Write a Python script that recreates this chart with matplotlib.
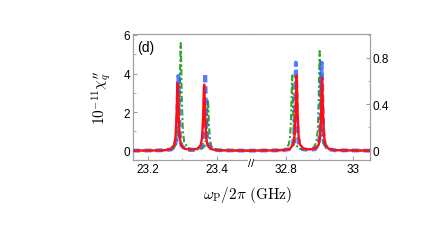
import matplotlib
matplotlib.use('Agg')
import matplotlib.pyplot as plt
from matplotlib.ticker import MultipleLocator

plt.rcParams['font.family'] = ['Liberation Sans', 'DejaVu Sans']
plt.rcParams['mathtext.fontset'] = 'cm'

# left part: 23.x GHz window, left axis units
red_l_x = [23.157, 23.22, 23.246, 23.266, 23.276, 23.280, 23.283, 23.2845, 23.286, 23.2875, 23.289, 23.292, 23.296, 23.306,
           23.325, 23.343, 23.353, 23.357, 23.360, 23.3615, 23.363, 23.3645, 23.366, 23.369, 23.373, 23.383, 23.403, 23.44, 23.493]
red_l_y = [0.0, 0.01, 0.02, 0.08, 0.29, 0.7, 1.75, 2.8, 3.5, 2.8, 1.75, 0.7, 0.29, 0.1,
           0.05, 0.1, 0.28, 0.68, 1.7, 2.7, 3.42, 2.7, 1.7, 0.68, 0.28, 0.08, 0.02, 0.01, 0.0]

blue_l_x = [23.157, 23.22, 23.248, 23.268, 23.279, 23.283, 23.2855, 23.287, 23.288, 23.289, 23.2905, 23.293, 23.297, 23.308,
            23.327, 23.346, 23.357, 23.361, 23.3635, 23.365, 23.366, 23.367, 23.3685, 23.371, 23.375, 23.386, 23.406, 23.44, 23.493]
blue_l_y = [0.0, 0.01, 0.02, 0.06, 0.27, 0.78, 1.94, 3.34, 3.88, 3.34, 1.94, 0.78, 0.27, 0.06,
            0.03, 0.06, 0.28, 0.8, 2.0, 3.46, 4.02, 3.46, 2.0, 0.8, 0.28, 0.06, 0.02, 0.01, 0.0]

green_l_x = [23.157, 23.23, 23.255, 23.275, 23.285, 23.289, 23.292, 23.2935, 23.295, 23.2965, 23.298, 23.301, 23.305, 23.315,
             23.334, 23.354, 23.364, 23.368, 23.371, 23.3725, 23.374, 23.3755, 23.377, 23.380, 23.384, 23.394, 23.414, 23.45, 23.493]
green_l_y = [0.0, 0.01, 0.03, 0.12, 0.46, 1.12, 2.79, 4.46, 5.58, 4.46, 2.79, 1.12, 0.46, 0.14,
             0.07, 0.07, 0.22, 0.53, 1.32, 2.11, 2.64, 2.11, 1.32, 0.53, 0.22, 0.06, 0.02, 0.01, 0.0]

# right part: 32.x GHz window, right axis units
red_r_x = [32.690, 32.76, 32.792, 32.812, 32.822, 32.826, 32.829, 32.8305, 32.832, 32.8335, 32.835, 32.838, 32.842, 32.852,
           32.870, 32.888, 32.898, 32.902, 32.905, 32.9065, 32.908, 32.9095, 32.911, 32.914, 32.918, 32.928, 32.948, 32.99, 33.051]
red_r_y = [0.0, 0.002, 0.004, 0.015, 0.054, 0.13, 0.325, 0.52, 0.65, 0.52, 0.325, 0.13, 0.054, 0.018,
           0.01, 0.018, 0.05, 0.126, 0.315, 0.5, 0.63, 0.5, 0.315, 0.126, 0.05, 0.015, 0.004, 0.002, 0.0]

blue_r_x = [32.690, 32.76, 32.790, 32.810, 32.821, 32.825, 32.8275, 32.829, 32.830, 32.831, 32.8325, 32.835, 32.839, 32.850,
            32.868, 32.887, 32.898, 32.902, 32.9045, 32.906, 32.907, 32.908, 32.9095, 32.912, 32.916, 32.927, 32.947, 32.99, 33.051]
blue_r_y = [0.0, 0.002, 0.003, 0.012, 0.053, 0.15, 0.38, 0.65, 0.76, 0.65, 0.38, 0.15, 0.053, 0.012,
            0.006, 0.012, 0.053, 0.15, 0.38, 0.65, 0.76, 0.65, 0.38, 0.15, 0.053, 0.012, 0.003, 0.002, 0.0]

green_r_x = [32.690, 32.75, 32.779, 32.799, 32.809, 32.813, 32.816, 32.8175, 32.819, 32.8205, 32.822, 32.825, 32.829, 32.839,
             32.860, 32.881, 32.891, 32.895, 32.898, 32.8995, 32.901, 32.9025, 32.904, 32.907, 32.911, 32.921, 32.941, 32.99, 33.051]
green_r_y = [0.0, 0.002, 0.004, 0.014, 0.054, 0.13, 0.325, 0.52, 0.65, 0.52, 0.325, 0.13, 0.054, 0.016,
             0.01, 0.02, 0.07, 0.17, 0.43, 0.69, 0.86, 0.69, 0.43, 0.17, 0.07, 0.019, 0.005, 0.002, 0.0]

left_yticks = [0, 2, 4, 6]
right_yticks = [0, 0.4, 0.8]
left_xticks = [23.2, 23.4]
right_xticks = [32.8, 33.0]

RED = '#ff0f0f'
BLUE = '#2a5cff'
GREEN = '#2fa52f'
SPINE = '#a0a0a0'

fig = plt.figure(figsize=(4.36, 2.51), dpi=100)
ax1 = fig.add_axes([0.305, 0.3566, 0.571 - 0.305, 0.8606 - 0.3566])
ax2 = fig.add_axes([0.571, 0.3566, 0.8486 - 0.571, 0.8606 - 0.3566])

def draw(ax, gx, gy, rx, ry, bx, by):
    ax.plot(gx, gy, color=GREEN, lw=1.5, ls=(0, (3, 1.2, 1, 1.2)), zorder=1)
    ax.plot(bx, by, color=BLUE, lw=2.8, ls=(0, (1.8, 1.1)), alpha=0.8,
            dash_capstyle='butt', zorder=2)
    ax.plot(rx, ry, color=RED, lw=1.7, zorder=3)

draw(ax1, green_l_x, green_l_y, red_l_x, red_l_y, blue_l_x, blue_l_y)
draw(ax2, green_r_x, green_r_y, red_r_x, red_r_y, blue_r_x, blue_r_y)

ax1.set_xlim(23.1565, 23.493)
ax1.set_ylim(-0.51, 6.05)
ax2.set_xlim(32.690, 33.051)
ax2.set_ylim(-0.085, 1.007)

for ax in (ax1, ax2):
    for s in ax.spines.values():
        s.set_color(SPINE)
        s.set_linewidth(0.9)
    ax.tick_params(which='both', direction='in', color=SPINE, labelsize=8.5, pad=2)
    ax.tick_params(which='major', length=3)
    ax.tick_params(which='minor', length=1.8)

ax1.spines['right'].set_visible(False)
ax2.spines['left'].set_visible(False)

ax1.set_xticks(left_xticks)
ax1.set_xticklabels(['23.2', '23.4'])
ax1.xaxis.set_minor_locator(MultipleLocator(0.1))
ax1.set_yticks(left_yticks)
ax1.yaxis.set_minor_locator(MultipleLocator(1))

ax2.set_xticks(right_xticks)
ax2.set_xticklabels(['32.8', '33'])
ax2.xaxis.set_minor_locator(MultipleLocator(0.1))
ax2.yaxis.tick_right()
ax2.set_yticks(right_yticks)
ax2.set_yticklabels(['0', '0.4', '0.8'])
ax2.yaxis.set_minor_locator(MultipleLocator(0.2))

ax1.text(0.035, 0.955, '(d)', transform=ax1.transAxes, fontsize=10, va='top', ha='left')

# break marker on the bottom frame
fig.text(0.5757, 0.348, '//', fontsize=8, ha='center', va='center',
         bbox=dict(facecolor='white', edgecolor='none', pad=0.2))

fig.text(0.232, 0.61, r"$10^{-11}\chi_q''$", rotation=90, fontsize=11, ha='center', va='center')
fig.text(0.567, 0.222, r"$\omega_{\rm P}/2\pi\ ({\rm GHz})$", fontsize=11, ha='center', va='center')

fig.savefig('out.png', dpi=100)
